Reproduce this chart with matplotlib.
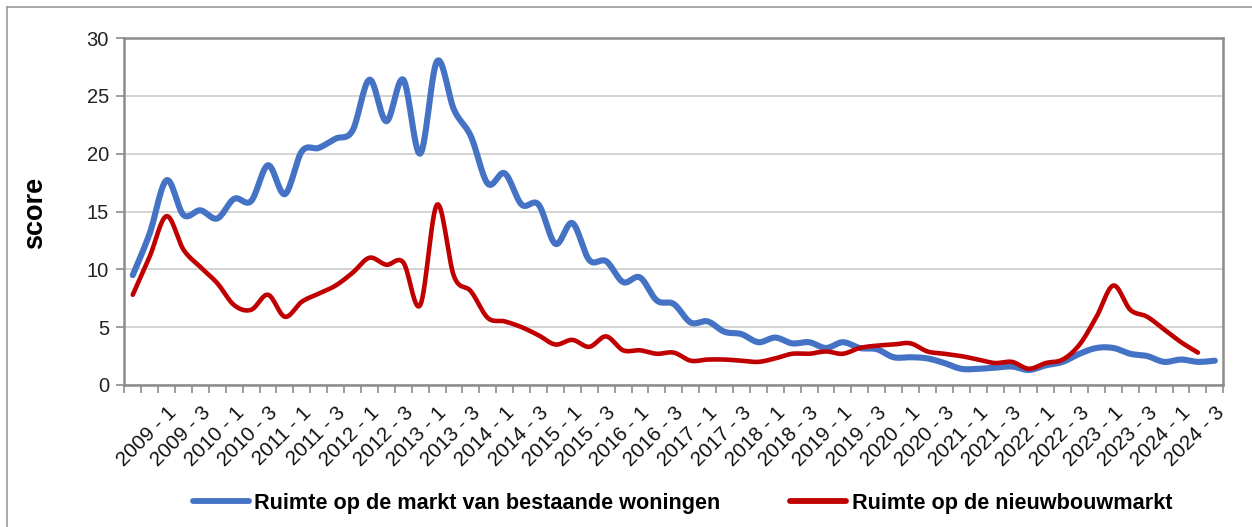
import numpy as np
import matplotlib
matplotlib.use("Agg")
import matplotlib.pyplot as plt
from matplotlib.lines import Line2D

# quarters on the category axis (first one carries no label)
quarters = [f"{2008 + (k + 2) // 4} - {(k + 2) % 4 + 1}" for k in range(65)]

bestaand = [9.5, 13.1, 17.7, 14.7, 15.1, 14.4, 16.1, 15.9, 19.0, 16.5,
            20.2, 20.5, 21.3, 22.0, 26.4, 22.8, 26.4, 20.0, 28.0, 23.8,
            21.5, 17.4, 18.3, 15.6, 15.6, 12.2, 14.0, 10.8, 10.7, 8.9,
            9.3, 7.3, 7.0, 5.4, 5.5, 4.6, 4.4, 3.7, 4.1, 3.6,
            3.7, 3.2, 3.7, 3.2, 3.1, 2.4, 2.4, 2.3, 1.9, 1.4,
            1.4, 1.5, 1.6, 1.3, 1.7, 2.0, 2.7, 3.2, 3.2, 2.7,
            2.5, 2.0, 2.2, 2.0, 2.1]

nieuwbouw = [7.8, 11.1, 14.6, 11.7, 10.2, 8.8, 6.9, 6.5, 7.8, 5.9,
             7.2, 7.9, 8.6, 9.7, 11.0, 10.4, 10.6, 6.9, 15.6, 9.4,
             8.1, 5.8, 5.5, 5.0, 4.3, 3.5, 3.9, 3.3, 4.2, 3.0,
             3.0, 2.7, 2.8, 2.1, 2.2, 2.2, 2.1, 2.0, 2.3, 2.7,
             2.7, 2.9, 2.7, 3.2, 3.4, 3.5, 3.6, 2.9, 2.7, 2.5,
             2.2, 1.9, 2.0, 1.4, 1.9, 2.2, 3.5, 5.9, 8.6, 6.5,
             5.9, 4.8, 3.7, 2.8]

labels = ["Ruimte op de markt van bestaande woningen", "Ruimte op de nieuwbouwmarkt"]
colors = ["#4472C4", "#C00000"]


def smooth(ys, n=16):
    # excel-like smoothed line (cardinal bezier through the points)
    p = np.column_stack([np.arange(len(ys)), ys]).astype(float)
    out = []
    for k in range(len(p) - 1):
        p0 = p[max(k - 1, 0)]
        p1 = p[k]
        p2 = p[k + 1]
        p3 = p[min(k + 2, len(p) - 1)]
        c1 = p1 + (p2 - p0) / 6
        c2 = p2 - (p3 - p1) / 6
        t = np.linspace(0, 1, n)[:, None]
        seg = (1 - t) ** 3 * p1 + 3 * (1 - t) ** 2 * t * c1 + 3 * (1 - t) * t ** 2 * c2 + t ** 3 * p2
        out.append(seg if k == 0 else seg[1:])
    out = np.vstack(out)
    return out[:, 0], out[:, 1]


plt.rcParams['font.family'] = ['Liberation Sans', 'DejaVu Sans']
fig = plt.figure(figsize=(12.52, 5.27), dpi=100)
ax = fig.add_axes([124.3 / 1252, 1 - 385 / 527, 1099 / 1252, 347 / 527])

x1, y1 = smooth(bestaand)
x2, y2 = smooth(nieuwbouw)
ax.plot(x1, y1, color=colors[0], lw=4.4, solid_capstyle='round', label=labels[0], zorder=3)
ax.plot(x2, y2, color=colors[1], lw=3.3, solid_capstyle='round', label=labels[1], zorder=4)

ax.set_xlim(-0.5, len(quarters) - 0.5)
ax.set_ylim(0, 30)
ax.set_yticks(range(0, 31, 5))
ax.yaxis.grid(True, color='#d0d0d0', lw=1.3)
ax.set_axisbelow(True)

pos = list(range(2, len(quarters), 2))
ax.set_xticks(pos)
ax.set_xticklabels([quarters[k] for k in pos], rotation=45, ha='right',
                   rotation_mode='anchor', fontsize=14.8, color='#111111')
ax.set_xticks(np.arange(-0.5, len(quarters), 1), minor=True)
ax.tick_params(axis='x', which='major', length=0, pad=13)
ax.tick_params(axis='x', which='minor', length=6, width=1.2, color='#8c8c8c')
ax.tick_params(axis='y', length=6, width=1.2, color='#8c8c8c', labelsize=14.5,
               labelcolor='#222222', pad=5)

for s in ax.spines.values():
    s.set_color('#8c8c8c')
    s.set_linewidth(1.8)

fig.text(35 / 1252, 1 - 213 / 527, "score", rotation=90, ha='center', va='center',
         fontsize=19.5, fontweight='bold')

leg = fig.legend(loc='center', bbox_to_anchor=(682.5 / 1252, 1 - 503 / 527), ncol=2, frameon=False,
                 prop={'weight': 'bold', 'size': 15.6}, handlelength=2.6,
                 handletextpad=0.25, columnspacing=3.2)
for h in leg.get_lines():
    h.set_linewidth(4.2)
    h.set_solid_capstyle('round')

# chart area border (only top and left fall inside the picture)
fig.add_artist(Line2D([7 / 1252, 7 / 1252], [0, 1 - 7 / 527], transform=fig.transFigure,
                      color='#9a9a9a', lw=1.2))
fig.add_artist(Line2D([7 / 1252, 1], [1 - 7 / 527, 1 - 7 / 527], transform=fig.transFigure,
                      color='#9a9a9a', lw=1.2))

fig.savefig("out.png", dpi=100)
